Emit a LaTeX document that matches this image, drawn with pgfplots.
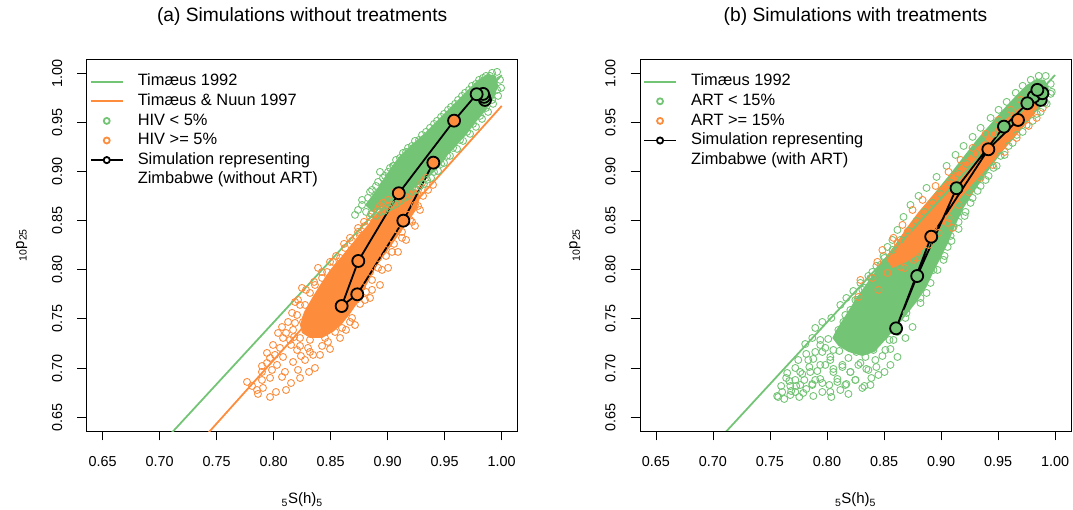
\documentclass[border=0pt]{standalone}
\usepackage{fontspec}
\setmainfont{Liberation Sans}
\usepackage{pgfplots}
\pgfplotsset{compat=1.18}

\definecolor{lgreen}{RGB}{116,196,118}
\definecolor{lorange}{RGB}{253,141,60}

\newcommand{\tickfont}{\fontsize{14.4bp}{17bp}\selectfont}
\newcommand{\labfont}{\fontsize{15bp}{18bp}\selectfont}

\pgfplotsset{
  leg line/.style={legend image code/.code={\draw[##1] (0bp,0bp) -- (31.7bp,0bp);}},
  leg dot/.style={legend image code/.code={\draw[##1, only marks] plot coordinates {(15.85bp,0bp)};}},
  leg path/.style={legend image code/.code={\draw[##1, mark repeat=2, mark phase=2] plot coordinates {(0bp,0bp) (15.85bp,0bp) (31.7bp,0bp)};}},
  cloud/.style={only marks, mark=o, mark size=3.5bp, line width=0.9bp, forget plot},
  core/.style={draw=none, fill=#1, forget plot},
  sim/.style={only marks, mark=*, mark size=6bp, mark options={draw=black, fill=#1, line width=1.8bp}, forget plot},
  panel/.style={
    scale only axis, width=431bp, height=371.7bp,
    xmin=0.636, xmax=1.014, ymin=0.636, ymax=1.014,
    xtick={0.65,0.7,0.75,0.8,0.85,0.9,0.95,1},
    ytick={0.65,0.7,0.75,0.8,0.85,0.9,0.95,1},
    /pgf/number format/assume math mode=true,
    xticklabel style={font=\tickfont, /pgf/number format/fixed, /pgf/number format/fixed zerofill,
      /pgf/number format/precision=2, anchor=center, yshift=-21bp},
    yticklabel style={font=\tickfont, /pgf/number format/fixed, /pgf/number format/fixed zerofill,
      /pgf/number format/precision=2, anchor=center, xshift=-20bp, rotate=90},
    tick align=outside, major tick length=9.5bp,
    xtick pos=left, ytick pos=left,
    tick style={black, line width=0.8bp},
    axis line style={black, line width=0.8bp},
    xlabel style={font=\labfont, at={(axis description cs:0.5,0)}, anchor=center, yshift=-69bp},
    ylabel style={font=\labfont, at={([xshift=-65bp]axis description cs:0,0.5)}, anchor=center},
    title style={at={(axis description cs:0.5,1)}, anchor=center, yshift=36.8bp,
      font=\fontsize{19.2bp}{22bp}\selectfont},
    xlabel={\textsubscript{5}S(h)\textsubscript{5}},
    ylabel={\textsubscript{10}p\textsubscript{25}},
    legend cell align=left,
    legend style={at={(axis description cs:0,1)}, anchor=north west, draw=none, fill=none,
      inner sep=0pt, outer sep=0pt, xshift=3.3bp, yshift=-14.6bp,
      font=\fontsize{16.4bp}{19.6bp}\selectfont,
      nodes={inner sep=0pt, text height=12bp, text depth=3.6bp},
      row sep=4bp, column sep=14.3bp},
  },
}

\begin{document}
\begin{tikzpicture}
\useasboundingbox (0,0) rectangle (1073bp,510bp);

% ---------------- (a) without treatments ----------------
\begin{axis}[panel, at={(86.7bp,79bp)}, anchor=south west,
  title={(a) Simulations without treatments}]

\addlegendimage{leg line, lgreen, line width=1.8bp}
\addlegendentry{Timæus 1992}
\addlegendimage{leg line, lorange, line width=1.8bp}
\addlegendentry{Timæus \& Nuun 1997}
\addlegendimage{leg dot, lgreen, mark=o, mark size=3bp, line width=1.8bp}
\addlegendentry{HIV < 5\%}
\addlegendimage{leg dot, lorange, mark=o, mark size=3bp, line width=1.8bp}
\addlegendentry{HIV >= 5\%}
\addlegendimage{leg path, black, line width=1.8bp, mark=*, mark size=3.1bp, mark options={fill=white}}
\addlegendentry{Simulation representing}
\addlegendimage{empty legend}
\addlegendentry{Zimbabwe (without ART)}

% HIV >= 5%: dense core and scattered simulations
\addplot[core=lorange] coordinates {
(0.8231,0.7438) (0.8266,0.7571) (0.8336,0.7713) (0.8406,0.7845) (0.8494,0.7998)
(0.8599,0.8140) (0.8713,0.8303) (0.8818,0.8446) (0.8915,0.8588) (0.9020,0.8710)
(0.9108,0.8792) (0.9196,0.8832) (0.9266,0.8812) (0.9283,0.8731) (0.9248,0.8608)
(0.9178,0.8487) (0.9090,0.8344) (0.9003,0.8201) (0.8915,0.8059) (0.8845,0.7916)
(0.8792,0.7795) (0.8740,0.7672) (0.8669,0.7550) (0.8599,0.7449) (0.8520,0.7367)
(0.8424,0.7306) (0.8318,0.7306) (0.8248,0.7357)
} -- cycle;
\addplot[cloud, lorange] coordinates {
(0.7766,0.6859) (0.7854,0.6777) (0.7862,0.6737) (0.7968,0.6706) (0.8108,0.6777)
(0.8073,0.6910) (0.8213,0.6981) (0.8362,0.7001) (0.7968,0.6900) (0.7941,0.7052)
(0.8029,0.7032) (0.8275,0.7082) (0.8345,0.7134) (0.8406,0.7134) (0.8476,0.7266)
(0.8161,0.7561) (0.8073,0.7418) (0.8038,0.7357) (0.8082,0.7306) (0.8231,0.7306)
(0.7941,0.7154) (0.8205,0.7184) (0.8301,0.7205) (0.8389,0.7357) (0.8564,0.7489)
(0.8248,0.7815) (0.8389,0.8019) (0.8187,0.7672) (0.8126,0.7469) (0.7994,0.7235)
(0.8170,0.7388) (0.8257,0.7469) (0.8538,0.7367) (0.8669,0.7469) (0.8143,0.7286)
(0.7897,0.6961) (0.8011,0.7134) (0.8318,0.7286) (0.8450,0.7306) (0.8599,0.7408)
(0.8318,0.7764) (0.8424,0.7916) (0.8520,0.8080) (0.8626,0.8222) (0.8740,0.8385)
(0.8845,0.8537) (0.8959,0.8680) (0.9064,0.8792) (0.8687,0.8293) (0.8468,0.7977)
(0.8362,0.7845) (0.8582,0.8120) (0.8801,0.8446) (0.8915,0.8608) (0.9003,0.8710)
(0.8275,0.7642) (0.8205,0.7540)
(0.9266,0.8812) (0.9301,0.8883) (0.9354,0.8812) (0.9397,0.8863) (0.9239,0.8659)
(0.9178,0.8558) (0.9090,0.8405) (0.9003,0.8263) (0.8915,0.8120) (0.8845,0.7977)
(0.8775,0.7825) (0.8722,0.7693) (0.8801,0.7693) (0.8862,0.7795) (0.8950,0.7998)
(0.9038,0.8181) (0.9125,0.8324) (0.9213,0.8487) (0.9283,0.8608)
(0.7810,0.6818) (0.7906,0.6798) (0.8020,0.6757) (0.8152,0.6848) (0.8231,0.6899)
(0.8310,0.6961) (0.7897,0.6879) (0.7985,0.6981) (0.8099,0.6961) (0.8170,0.7062)
(0.8082,0.7113) (0.8239,0.7123) (0.7897,0.7021) (0.7968,0.7103) (0.8055,0.7205)
(0.8152,0.7235) (0.8231,0.7225) (0.8318,0.7164) (0.8424,0.7225) (0.8494,0.7194)
(0.8582,0.7306) (0.8634,0.7388) (0.8713,0.7438) (0.8108,0.7357) (0.8187,0.7459)
(0.8178,0.7316) (0.8283,0.7510) (0.8231,0.7642) (0.8213,0.7693) (0.8283,0.7795)
(0.8354,0.7876) (0.8424,0.7977) (0.8494,0.8080) (0.8547,0.8140) (0.8617,0.8263)
(0.8669,0.8324) (0.8740,0.8425) (0.8792,0.8487) (0.8862,0.8568) (0.8932,0.8649)
(0.8757,0.8344) (0.8880,0.8487) (0.9003,0.8649) (0.9336,0.8934) (0.9310,0.8751)
(0.9266,0.8649) (0.9196,0.8507) (0.9125,0.8385) (0.9055,0.8263) (0.8985,0.8140)
(0.8915,0.8019) (0.8862,0.7896) (0.8810,0.7774) (0.8757,0.7652) (0.8687,0.7510)
(0.8845,0.7713) (0.8932,0.7845) (0.9003,0.8019) (0.9090,0.8181) (0.9161,0.8303)
(0.9239,0.8446)
};

% HIV < 5%
\addplot[core=lgreen] coordinates {
(0.8801,0.8659) (0.8889,0.8792) (0.9003,0.8995) (0.9090,0.9137) (0.9196,0.9259)
(0.9327,0.9392) (0.9459,0.9544) (0.9591,0.9697) (0.9704,0.9829) (0.9792,0.9931)
(0.9880,0.9992) (0.9950,0.9971) (0.9968,0.9870) (0.9932,0.9748) (0.9862,0.9626)
(0.9774,0.9504) (0.9687,0.9371) (0.9599,0.9259) (0.9520,0.9158) (0.9459,0.9056)
(0.9371,0.8954) (0.9283,0.8873) (0.9178,0.8792) (0.9090,0.8731) (0.8976,0.8649)
(0.8862,0.8588)
} -- cycle;
\addplot[cloud, lgreen] coordinates {
(0.8740,0.8608) (0.8775,0.8659) (0.8827,0.8731) (0.8862,0.8812) (0.8915,0.8893)
(0.8976,0.8954) (0.9020,0.9036) (0.9073,0.9117) (0.9134,0.9188) (0.9178,0.9239)
(0.9239,0.9310) (0.9301,0.9371) (0.9371,0.9443) (0.9432,0.9514) (0.9494,0.9585)
(0.9555,0.9656) (0.9617,0.9727) (0.9678,0.9799) (0.9739,0.9870) (0.9801,0.9931)
(0.9862,0.9971) (0.9915,1.0002) (0.9959,1.0012) (0.8713,0.8558) (0.8810,0.8588)
(0.8932,0.8995) (0.9055,0.9056)
(0.9985,0.9931) (0.9994,0.9849) (0.9968,0.9768) (0.9924,0.9687) (0.9880,0.9605)
(0.9827,0.9534) (0.9774,0.9453) (0.9722,0.9382) (0.9661,0.9310) (0.9608,0.9229)
(0.9546,0.9158) (0.9494,0.9086) (0.9441,0.9005) (0.9380,0.8934) (0.9318,0.8873)
(0.9248,0.8812) (0.9178,0.8751) (0.9108,0.8700) (0.9038,0.8649) (0.8968,0.8598)
(0.8897,0.8548)
(0.8775,0.8710) (0.8845,0.8792) (0.8897,0.8852) (0.8959,0.8934) (0.9003,0.8995)
(0.9047,0.9056) (0.9108,0.9137) (0.9161,0.9198) (0.9213,0.9259) (0.9275,0.9320)
(0.9336,0.9402) (0.9406,0.9483) (0.9468,0.9555) (0.9529,0.9626) (0.9591,0.9687)
(0.9652,0.9768) (0.9713,0.9829) (0.9774,0.9890) (0.9836,0.9951) (0.9897,0.9971)
(0.9959,0.9829) (0.9915,0.9727) (0.9862,0.9646) (0.9810,0.9565) (0.9748,0.9483)
(0.9696,0.9402) (0.9634,0.9320) (0.9573,0.9239) (0.9520,0.9158) (0.9468,0.9076)
(0.9406,0.8995) (0.9345,0.8914) (0.9283,0.8852) (0.9213,0.8792) (0.9143,0.8731)
(0.9073,0.8670) (0.9003,0.8629) (0.8932,0.8588) (0.8854,0.8568)
};

% reference models
\addplot[lgreen, line width=1.8bp, forget plot] coordinates {(0.70,0.6209) (1.00,0.9980)};
\addplot[lorange, line width=1.8bp, forget plot] coordinates {(0.73,0.6178) (1.00,0.9666)};

% Zimbabwe trajectory
\addplot[black, line width=1.8bp, forget plot] coordinates {
(0.9853,0.9727) (0.9845,0.9758) (0.9836,0.9788) (0.9780,0.9785) (0.9582,0.9516)
(0.9097,0.8778) (0.8742,0.8089) (0.8596,0.7631) (0.8733,0.7750) (0.9137,0.8499)
(0.9400,0.9089)
};
\addplot[sim=lgreen] coordinates {
(0.9853,0.9727) (0.9845,0.9758) (0.9836,0.9788) (0.9780,0.9785)
};
\addplot[sim=lorange] coordinates {
(0.9582,0.9516) (0.9097,0.8778) (0.8742,0.8089) (0.8596,0.7631) (0.8733,0.7750)
(0.9137,0.8499) (0.9400,0.9089)
};
\end{axis}

% ---------------- (b) with treatments ----------------
\begin{axis}[panel, at={(640bp,79bp)}, anchor=south west,
  title={(b) Simulations with treatments}]

\addlegendimage{leg line, lgreen, line width=1.8bp}
\addlegendentry{Timæus 1992}
\addlegendimage{leg dot, lgreen, mark=o, mark size=3bp, line width=1.8bp}
\addlegendentry{ART < 15\%}
\addlegendimage{leg dot, lorange, mark=o, mark size=3bp, line width=1.8bp}
\addlegendentry{ART >= 15\%}
\addlegendimage{leg path, black, line width=1.8bp, mark=*, mark size=3.1bp, mark options={fill=white}}
\addlegendentry{Simulation representing}
\addlegendimage{empty legend}
\addlegendentry{Zimbabwe (with ART)}

% ART < 15%
\addplot[core=lgreen] coordinates {
(0.8047,0.7306) (0.8082,0.7388) (0.8170,0.7550) (0.8258,0.7713)
(0.8345,0.7856) (0.8433,0.7998) (0.8530,0.8151) (0.8627,0.8303) (0.8732,0.8466)
(0.8838,0.8629) (0.8952,0.8792) (0.9066,0.8954) (0.9189,0.9137) (0.9312,0.9320)
(0.9435,0.9483) (0.9558,0.9646) (0.9664,0.9778) (0.9751,0.9880) (0.9839,0.9941)
(0.9910,0.9931) (0.9945,0.9849) (0.9927,0.9748) (0.9874,0.9656) (0.9787,0.9555)
(0.9681,0.9422) (0.9576,0.9259) (0.9470,0.9097) (0.9374,0.8944) (0.9286,0.8791)
(0.9198,0.8629) (0.9127,0.8456) (0.9066,0.8283) (0.8996,0.8120) (0.8934,0.7978)
(0.8873,0.7825) (0.8785,0.7672) (0.8688,0.7530) (0.8600,0.7408) (0.8512,0.7286)
(0.8416,0.7164) (0.8310,0.7123) (0.8188,0.7164) (0.8100,0.7225)
} -- cycle;
\addplot[cloud, lgreen] coordinates {
(0.7572,0.6706) (0.7607,0.6757) (0.7678,0.6818) (0.7642,0.6899) (0.7722,0.6879)
(0.7765,0.6960) (0.7792,0.6747) (0.7853,0.6960) (0.7897,0.6879) (0.7959,0.6848)
(0.8029,0.6757) (0.8091,0.6859) (0.8205,0.6960) (0.8293,0.7052) (0.7985,0.7205)
(0.7941,0.7286) (0.8091,0.7316) (0.8179,0.7459) (0.8231,0.7561) (0.8354,0.7662)
(0.8442,0.7795) (0.8486,0.7896) (0.7836,0.7082) (0.7897,0.7164) (0.8029,0.7082)
(0.8135,0.7032) (0.8249,0.6879) (0.8161,0.6828) (0.8363,0.6981) (0.8424,0.7082)
(0.8512,0.7184) (0.8583,0.7286) (0.8618,0.7408) (0.8688,0.7510) (0.8556,0.7032)
(0.8451,0.6930) (0.8310,0.6798) (0.7941,0.7032) (0.7871,0.6828) (0.7722,0.6757)
(0.8056,0.6960) (0.8188,0.7235) (0.8293,0.7306) (0.8381,0.7510) (0.8468,0.7642)
(0.8539,0.7744) (0.8056,0.7184) (0.8100,0.7388) (0.8161,0.7540) (0.8249,0.7693)
(0.8328,0.7815) (0.8398,0.7978) (0.7765,0.6828) (0.7678,0.6726) (0.8381,0.6828)
(0.8697,0.7561) (0.8820,0.7662) (0.8873,0.7764) (0.8847,0.7866) (0.8934,0.7998)
(0.9022,0.8100) (0.9058,0.8232) (0.9110,0.8435) (0.9145,0.8578)
(0.8495,0.8140) (0.8530,0.8232) (0.8574,0.8303) (0.8618,0.8405) (0.8671,0.8537)
(0.8468,0.8049) (0.8381,0.7916) (0.8310,0.7795) (0.8267,0.7693) (0.8205,0.7591)
(0.8144,0.7469) (0.8732,0.8659) (0.8803,0.8751) (0.8873,0.8832) (0.8961,0.8944)
(0.9049,0.9056) (0.9127,0.9168) (0.9198,0.9259) (0.9277,0.9351) (0.9347,0.9443)
(0.9435,0.9544) (0.9505,0.9626) (0.9576,0.9707) (0.9655,0.9799) (0.9716,0.9870)
(0.9787,0.9931) (0.9857,0.9971) (0.9918,0.9971)
(0.9962,0.9890) (0.9962,0.9789) (0.9927,0.9687) (0.9874,0.9605) (0.9804,0.9514)
(0.9716,0.9402) (0.9628,0.9290) (0.9558,0.9168) (0.9488,0.9056) (0.9417,0.8954)
(0.9347,0.8852) (0.9277,0.8730) (0.9215,0.8588) (0.9154,0.8486) (0.9084,0.8344)
(0.7563,0.6716) (0.7625,0.6686) (0.7686,0.6767) (0.7757,0.6706) (0.7818,0.6787)
(0.7880,0.6716) (0.7959,0.6757) (0.8038,0.6706) (0.8117,0.6777) (0.8188,0.6737)
(0.7598,0.6818) (0.7669,0.6869) (0.7730,0.6818) (0.7801,0.6879) (0.7871,0.6838)
(0.7941,0.6889) (0.8020,0.6828) (0.8091,0.6889) (0.8170,0.6838) (0.8249,0.6879)
(0.8328,0.6818) (0.8389,0.6899) (0.7651,0.6950) (0.7722,0.7001) (0.7783,0.6940)
(0.7845,0.7011) (0.7915,0.6970) (0.7985,0.7032) (0.8056,0.6991) (0.8135,0.7011)
(0.8205,0.6960) (0.8275,0.7032) (0.8345,0.6991) (0.8433,0.7011) (0.8504,0.6960)
(0.7748,0.7082) (0.7818,0.7144) (0.7880,0.7093) (0.7959,0.7164) (0.8029,0.7113)
(0.8108,0.7174) (0.8188,0.7103) (0.8258,0.7164) (0.8337,0.7113) (0.8407,0.7184)
(0.8486,0.7123) (0.8556,0.7194) (0.8618,0.7113) (0.7809,0.7245) (0.7871,0.7306)
(0.7941,0.7235) (0.8011,0.7296) (0.8389,0.7286) (0.8468,0.7347) (0.8548,0.7286)
(0.8618,0.7367) (0.8688,0.7306) (0.8750,0.7418) (0.7897,0.7408) (0.7959,0.7469)
(0.8038,0.7510) (0.8117,0.7642) (0.8170,0.7713) (0.8231,0.7784) (0.8293,0.7866)
(0.8363,0.7937) (0.8433,0.8039) (0.8504,0.8120) (0.8574,0.8201) (0.8644,0.8303)
(0.8715,0.8395) (0.8785,0.8496) (0.8855,0.8588) (0.8926,0.8680) (0.8996,0.8771)
(0.9084,0.8883) (0.9154,0.8975) (0.9224,0.9076) (0.9303,0.9178) (0.9382,0.9280)
(0.9461,0.9382) (0.9541,0.9483) (0.9620,0.9585) (0.9699,0.9687) (0.9787,0.9789)
(0.9866,0.9860) (0.8820,0.7713) (0.8908,0.7866) (0.8969,0.7998) (0.9031,0.8140)
(0.9092,0.8293) (0.9154,0.8415) (0.9207,0.8547) (0.9259,0.8680) (0.9321,0.8802)
(0.9391,0.8913) (0.9461,0.9036) (0.9523,0.9158) (0.9593,0.9259) (0.9664,0.9371)
(0.9751,0.9473) (0.9839,0.9585) (0.9910,0.9697) (0.9971,0.9809)
};

% ART >= 15%
\addplot[core=lorange] coordinates {
(0.8512,0.8120) (0.8600,0.8252) (0.8697,0.8425) (0.8803,0.8588) (0.8908,0.8730)
(0.9040,0.8893) (0.9154,0.9036) (0.9259,0.9168) (0.9382,0.9320) (0.9505,0.9463)
(0.9611,0.9575) (0.9716,0.9666) (0.9804,0.9727) (0.9857,0.9687) (0.9822,0.9585)
(0.9716,0.9443) (0.9611,0.9300) (0.9497,0.9158) (0.9391,0.9015) (0.9277,0.8873)
(0.9171,0.8730) (0.9084,0.8588) (0.9005,0.8446) (0.8926,0.8303) (0.8820,0.8181)
(0.8697,0.8080) (0.8574,0.8018)
} -- cycle;
\addplot[cloud, lorange] coordinates {
(0.8293,0.7896) (0.8275,0.7723) (0.8398,0.7916) (0.8451,0.7795) (0.8442,0.8080)
(0.8556,0.8130) (0.8644,0.8029) (0.8759,0.8100) (0.8794,0.8181) (0.8934,0.8435)
(0.9058,0.8476) (0.9101,0.8425) (0.8996,0.8639) (0.8706,0.8385) (0.8618,0.8273)
(0.8530,0.7967) (0.8486,0.8201) (0.8583,0.8324) (0.8662,0.8456) (0.8750,0.8608)
(0.8838,0.8710) (0.8952,0.8852) (0.9066,0.8995) (0.9171,0.9117) (0.9277,0.9239)
(0.9391,0.9382) (0.9505,0.9524) (0.9611,0.9626) (0.9699,0.9727) (0.9787,0.9778)
(0.9874,0.9748) (0.9892,0.9646) (0.9839,0.9544) (0.9769,0.9463) (0.9664,0.9341)
(0.9558,0.9198) (0.9453,0.9066) (0.9347,0.8934) (0.9242,0.8791) (0.9154,0.8659)
(0.9066,0.8527) (0.8978,0.8374) (0.8891,0.8252) (0.8785,0.8120) (0.8680,0.8018)
};

% reference model
\addplot[lgreen, line width=1.8bp, forget plot] coordinates {(0.70,0.6209) (1.00,0.9980)};

% Zimbabwe trajectory with ART
\addplot[black, line width=1.8bp, forget plot] coordinates {
(0.9874,0.9727) (0.9813,0.9760) (0.9889,0.9795) (0.9845,0.9829) (0.9757,0.9693)
(0.9552,0.9455) (0.9136,0.8829) (0.8791,0.7936) (0.8606,0.7404) (0.8914,0.8336)
(0.9415,0.9225) (0.9675,0.9523)
};
\addplot[sim=lgreen] coordinates {
(0.9874,0.9727) (0.9813,0.9760) (0.9889,0.9795) (0.9845,0.9829) (0.9757,0.9693)
(0.9552,0.9455) (0.9136,0.8829) (0.8791,0.7936) (0.8606,0.7404)
};
\addplot[sim=lorange] coordinates {
(0.8914,0.8336) (0.9415,0.9225) (0.9675,0.9523)
};
\end{axis}
\end{tikzpicture}
\end{document}
